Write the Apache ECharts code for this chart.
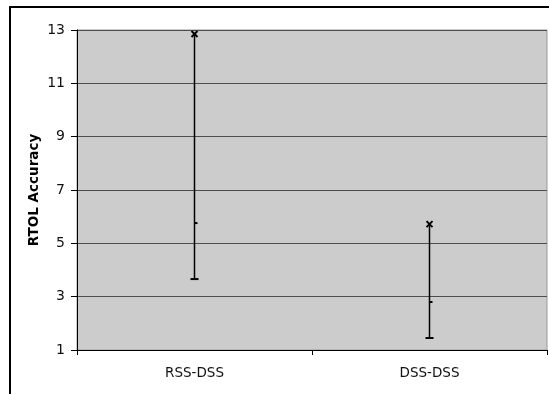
<!DOCTYPE html>
<html><head><meta charset="utf-8">
<script src="https://cdn.jsdelivr.net/npm/echarts@6/dist/echarts.min.js"></script>
<style>html,body{margin:0;padding:0;background:#fff}#c{width:549px;height:394px}</style>
</head><body><div id="c"></div>
<script>
const categories = ['RSS-DSS', 'DSS-DSS'];
const highValues = [12.85, 5.72];
const lowValues = [3.66, 1.45];
const closeValues = [5.76, 2.8];
const yTicks = [1, 3, 5, 7, 9, 11, 13];

const chart = echarts.init(document.getElementById('c'), null, {renderer: 'canvas'});
const data = categories.map((c, i) => [i, highValues[i], lowValues[i], closeValues[i]]);
const font = 'DejaVu Sans, Verdana, sans-serif';
chart.setOption({
  animation: false,
  graphic: [{type: 'rect', shape: {x: 10, y: 7, width: 560, height: 420}, style: {fill: 'none', stroke: '#000', lineWidth: 2}, z: 100}],
  grid: {left: 77, top: 30, width: 470, height: 320, backgroundColor: '#cccccc', show: true, borderColor: '#999', borderWidth: 1},
  xAxis: {type: 'category', data: categories, boundaryGap: true,
    axisLine: {lineStyle: {color: '#000', width: 1}},
    axisTick: {show: true, length: 5, lineStyle: {color: '#000'}},
    axisLabel: {color: '#111', fontFamily: font, fontSize: 13.5, margin: 16},
    splitLine: {show: false}},
  yAxis: {type: 'value', min: yTicks[0], max: yTicks[yTicks.length - 1], interval: 2,
    name: 'RTOL Accuracy', nameLocation: 'middle', nameGap: 36, nameMoveOverlap: false,
    nameTextStyle: {fontFamily: font, fontSize: 13.5, fontWeight: 'bold', color: '#000'},
    axisLine: {show: true, lineStyle: {color: '#000'}},
    axisTick: {show: true, length: 6, lineStyle: {color: '#000'}},
    axisLabel: {color: '#111', fontFamily: font, fontSize: 14, margin: 12},
    splitLine: {show: true, lineStyle: {color: '#4d4d4d', width: 1.2}}},
  series: [{
    type: 'custom',
    data: data,
    renderItem: function (params, api) {
      const x = api.value(0);
      const hi = api.coord([x, api.value(1)]);
      const lo = api.coord([x, api.value(2)]);
      const cl = api.coord([x, api.value(3)]);
      const st = {stroke: '#000', lineWidth: 1.5};
      return {type: 'group', children: [
        {type: 'line', shape: {x1: hi[0], y1: hi[1], x2: lo[0], y2: lo[1]}, style: st},
        {type: 'line', shape: {x1: lo[0] - 4, y1: lo[1], x2: lo[0] + 4, y2: lo[1]}, style: {stroke: '#000', lineWidth: 2}},
        {type: 'line', shape: {x1: cl[0], y1: cl[1], x2: cl[0] + 3, y2: cl[1]}, style: {stroke: '#000', lineWidth: 2}},
        {type: 'line', shape: {x1: hi[0] - 3, y1: hi[1] - 3, x2: hi[0] + 3, y2: hi[1] + 3}, style: {stroke: '#000', lineWidth: 2}},
        {type: 'line', shape: {x1: hi[0] - 3, y1: hi[1] + 3, x2: hi[0] + 3, y2: hi[1] - 3}, style: {stroke: '#000', lineWidth: 2}}
      ]};
    }
  }]
});
</script></body></html>
